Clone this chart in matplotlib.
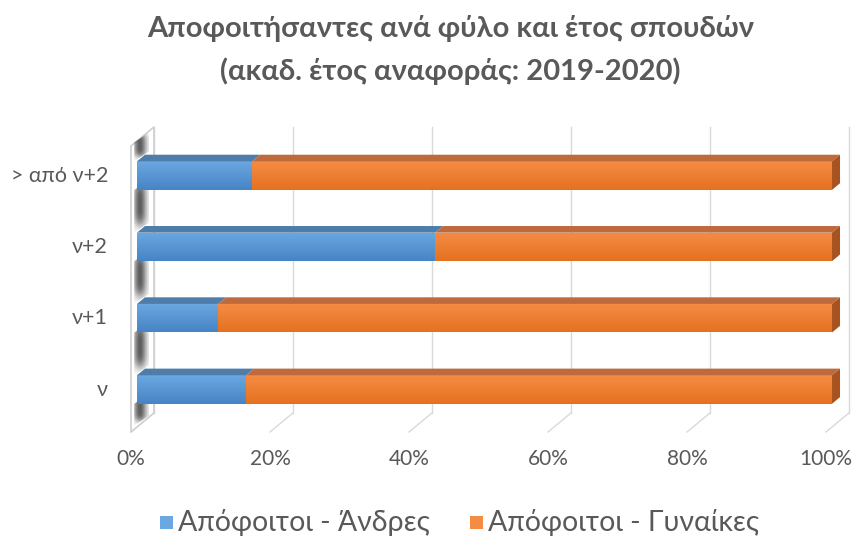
import numpy as np
import matplotlib.pyplot as plt
from matplotlib.patches import Polygon, Rectangle
from matplotlib.colors import to_rgb

# data
categories = ["ν", "ν+1", "ν+2", "> από ν+2"]
men = [0.157, 0.117, 0.429, 0.166]
women = [1 - m for m in men]
ticks = [0, 0.2, 0.4, 0.6, 0.8, 1.0]
tick_labels = ["0%", "20%", "40%", "60%", "80%", "100%"]
series_names = ["Απόφοιτοι - Άνδρες", "Απόφοιτοι - Γυναίκες"]
title_lines = ["Αποφοιτήσαντες ανά φύλο και έτος σπουδών",
               "(ακαδ. έτος αναφοράς: 2019-2020)"]

FONT = ["Lato", "Open Sans", "DejaVu Sans"]
GRAY = "#595959"
BLUE = dict(top="#6BA7E0", bot="#4784C5", lid="#4E7DAA", side="#3F6C98")
ORANGE = dict(top="#F58C45", bot="#E5711F", lid="#BE6A3C", side="#A8531F")

fig = plt.figure(figsize=(8.53, 5.37), dpi=100)
ax = fig.add_axes([100 / 853, 1 - 440 / 537, 753 / 853, 320 / 537])
XL, YL = (-0.0532, 1.0302), (-0.708, 3.78)
ax.axis("off")

ux = (XL[1] - XL[0]) / 753
uy = (YL[1] - YL[0]) / 320
slope = 0.83


def off(d):
    # depth in pixels -> data offset
    return d * ux, slope * d * uy


def to_rgba4(c):
    return list(to_rgb(c)) + [1.0]


def grad(pts, c1, c2, z):
    # polygon filled with a vertical gradient (c1 at top, c2 at bottom)
    poly = Polygon(pts, closed=True, facecolor="none", edgecolor="none", zorder=z)
    ax.add_patch(poly)
    pts = np.array(pts)
    t = np.linspace(0, 1, 64)[:, None]
    a, b = np.array(to_rgba4(c1)), np.array(to_rgba4(c2))
    img = (a * (1 - t) + b * t)[:, None, :]
    im = ax.imshow(img, extent=(pts[:, 0].min(), pts[:, 0].max(),
                                pts[:, 1].min(), pts[:, 1].max()),
                   origin="upper", aspect="auto", zorder=z, interpolation="bilinear")
    im.set_clip_path(poly)


front, bar_d, back = -6, 8, 17
floor_y = -0.526
wall_top = 3.485
h = 0.2

# back wall gridlines
bx, by = off(back)
for t in ticks:
    ax.plot([t + bx, t + bx], [floor_y + by, wall_top + by], color="#D9D9D9", lw=1, zorder=1)

# floor lines
fx, fy = off(front)
for t in ticks:
    ax.plot([t + fx, t + bx], [floor_y + fy, floor_y + by], color="#D9D9D9", lw=1, zorder=1)

# left wall
wall = [(fx, floor_y + fy), (bx, floor_y + by), (bx, wall_top + by), (fx, wall_top + fy)]
ax.add_patch(Polygon(wall, closed=True, facecolor="white", edgecolor="#D0D0D0", lw=1.2, zorder=1))

# shadows on the left wall between bars
dx8, dy8 = off(bar_d + 4)
edges = [floor_y + 0.02]
for i in range(len(categories)):
    edges += [i - h, i + h]
edges.append(wall_top - 0.02)
for k in range(0, len(edges), 2):
    y0, y1 = edges[k], edges[k + 1]
    n = 64
    s = np.linspace(0, 1, n)
    pts = [(-0.004, y0), (dx8, y0 + dy8), (dx8, y1 + dy8), (-0.004, y1)]
    poly = Polygon(pts, closed=True, facecolor="none", edgecolor="none", zorder=2)
    ax.add_patch(poly)
    xs = np.linspace(0, 1, 24)
    al = 0.85 * np.exp(-((s[:, None] - 0.45) / 0.42) ** 4) * np.exp(-((xs[None, :] - 0.4) / 0.45) ** 2)
    img = np.zeros((n, 24, 4))
    img[..., :3] = 0.25
    img[..., 3] = al
    im = ax.imshow(img, extent=(-0.004, dx8, y0, y1 + dy8), origin="upper",
                   aspect="auto", zorder=2, interpolation="bilinear")
    im.set_clip_path(poly)

# bars (top bar drawn first so lower ones overlap correctly)
for i in range(len(categories) - 1, -1, -1):
    left = 0
    dxb, dyb = off(bar_d)
    z = 5 + (len(categories) - i)
    for val, col in [(men[i], BLUE), (women[i], ORANGE)]:
        x0, x1 = left, left + val
        grad([(x0, i - h), (x1, i - h), (x1, i + h), (x0, i + h)], col["top"], col["bot"], z)
        lid = [(x0, i + h), (x1, i + h), (x1 + dxb, i + h + dyb), (x0 + dxb, i + h + dyb)]
        ax.add_patch(Polygon(lid, closed=True, facecolor=col["lid"], edgecolor="none", zorder=z))
        left = x1
    side = [(1, i - h), (1 + dxb, i - h + dyb), (1 + dxb, i + h + dyb), (1, i + h)]
    ax.add_patch(Polygon(side, closed=True, facecolor=ORANGE["side"], edgecolor="none", zorder=z))

# tick labels
for t, lab in zip(ticks, tick_labels):
    ax.text(t + fx, floor_y + fy - 0.38, lab, ha="center", va="center",
            fontsize=15, color=GRAY, family=FONT)
for i, lab in enumerate(categories):
    ax.text(-0.0417, i, lab, ha="right", va="center", fontsize=15.5,
            color=GRAY, family=FONT)

ax.set_xlim(*XL)
ax.set_ylim(*YL)

# title
fig.text(0.528, 1 - 29 / 537, title_lines[0], ha="center", va="center",
         fontsize=21, fontweight="bold", color=GRAY, family=FONT)
fig.text(0.528, 1 - 71 / 537, title_lines[1], ha="center", va="center",
         fontsize=21, fontweight="bold", color=GRAY, family=FONT)

# legend
for sx, col, name in [(160, BLUE, series_names[0]), (470, ORANGE, series_names[1])]:
    fig.patches.append(Rectangle((sx / 853, 1 - 529 / 537), 13 / 853, 13 / 537,
                                 transform=fig.transFigure, facecolor=col["top"],
                                 edgecolor="none"))
    fig.text((sx + 18) / 853, 1 - 522 / 537, name, ha="left", va="center",
             fontsize=20.5, color=GRAY, family=FONT)

fig.savefig("out.png", dpi=100)
